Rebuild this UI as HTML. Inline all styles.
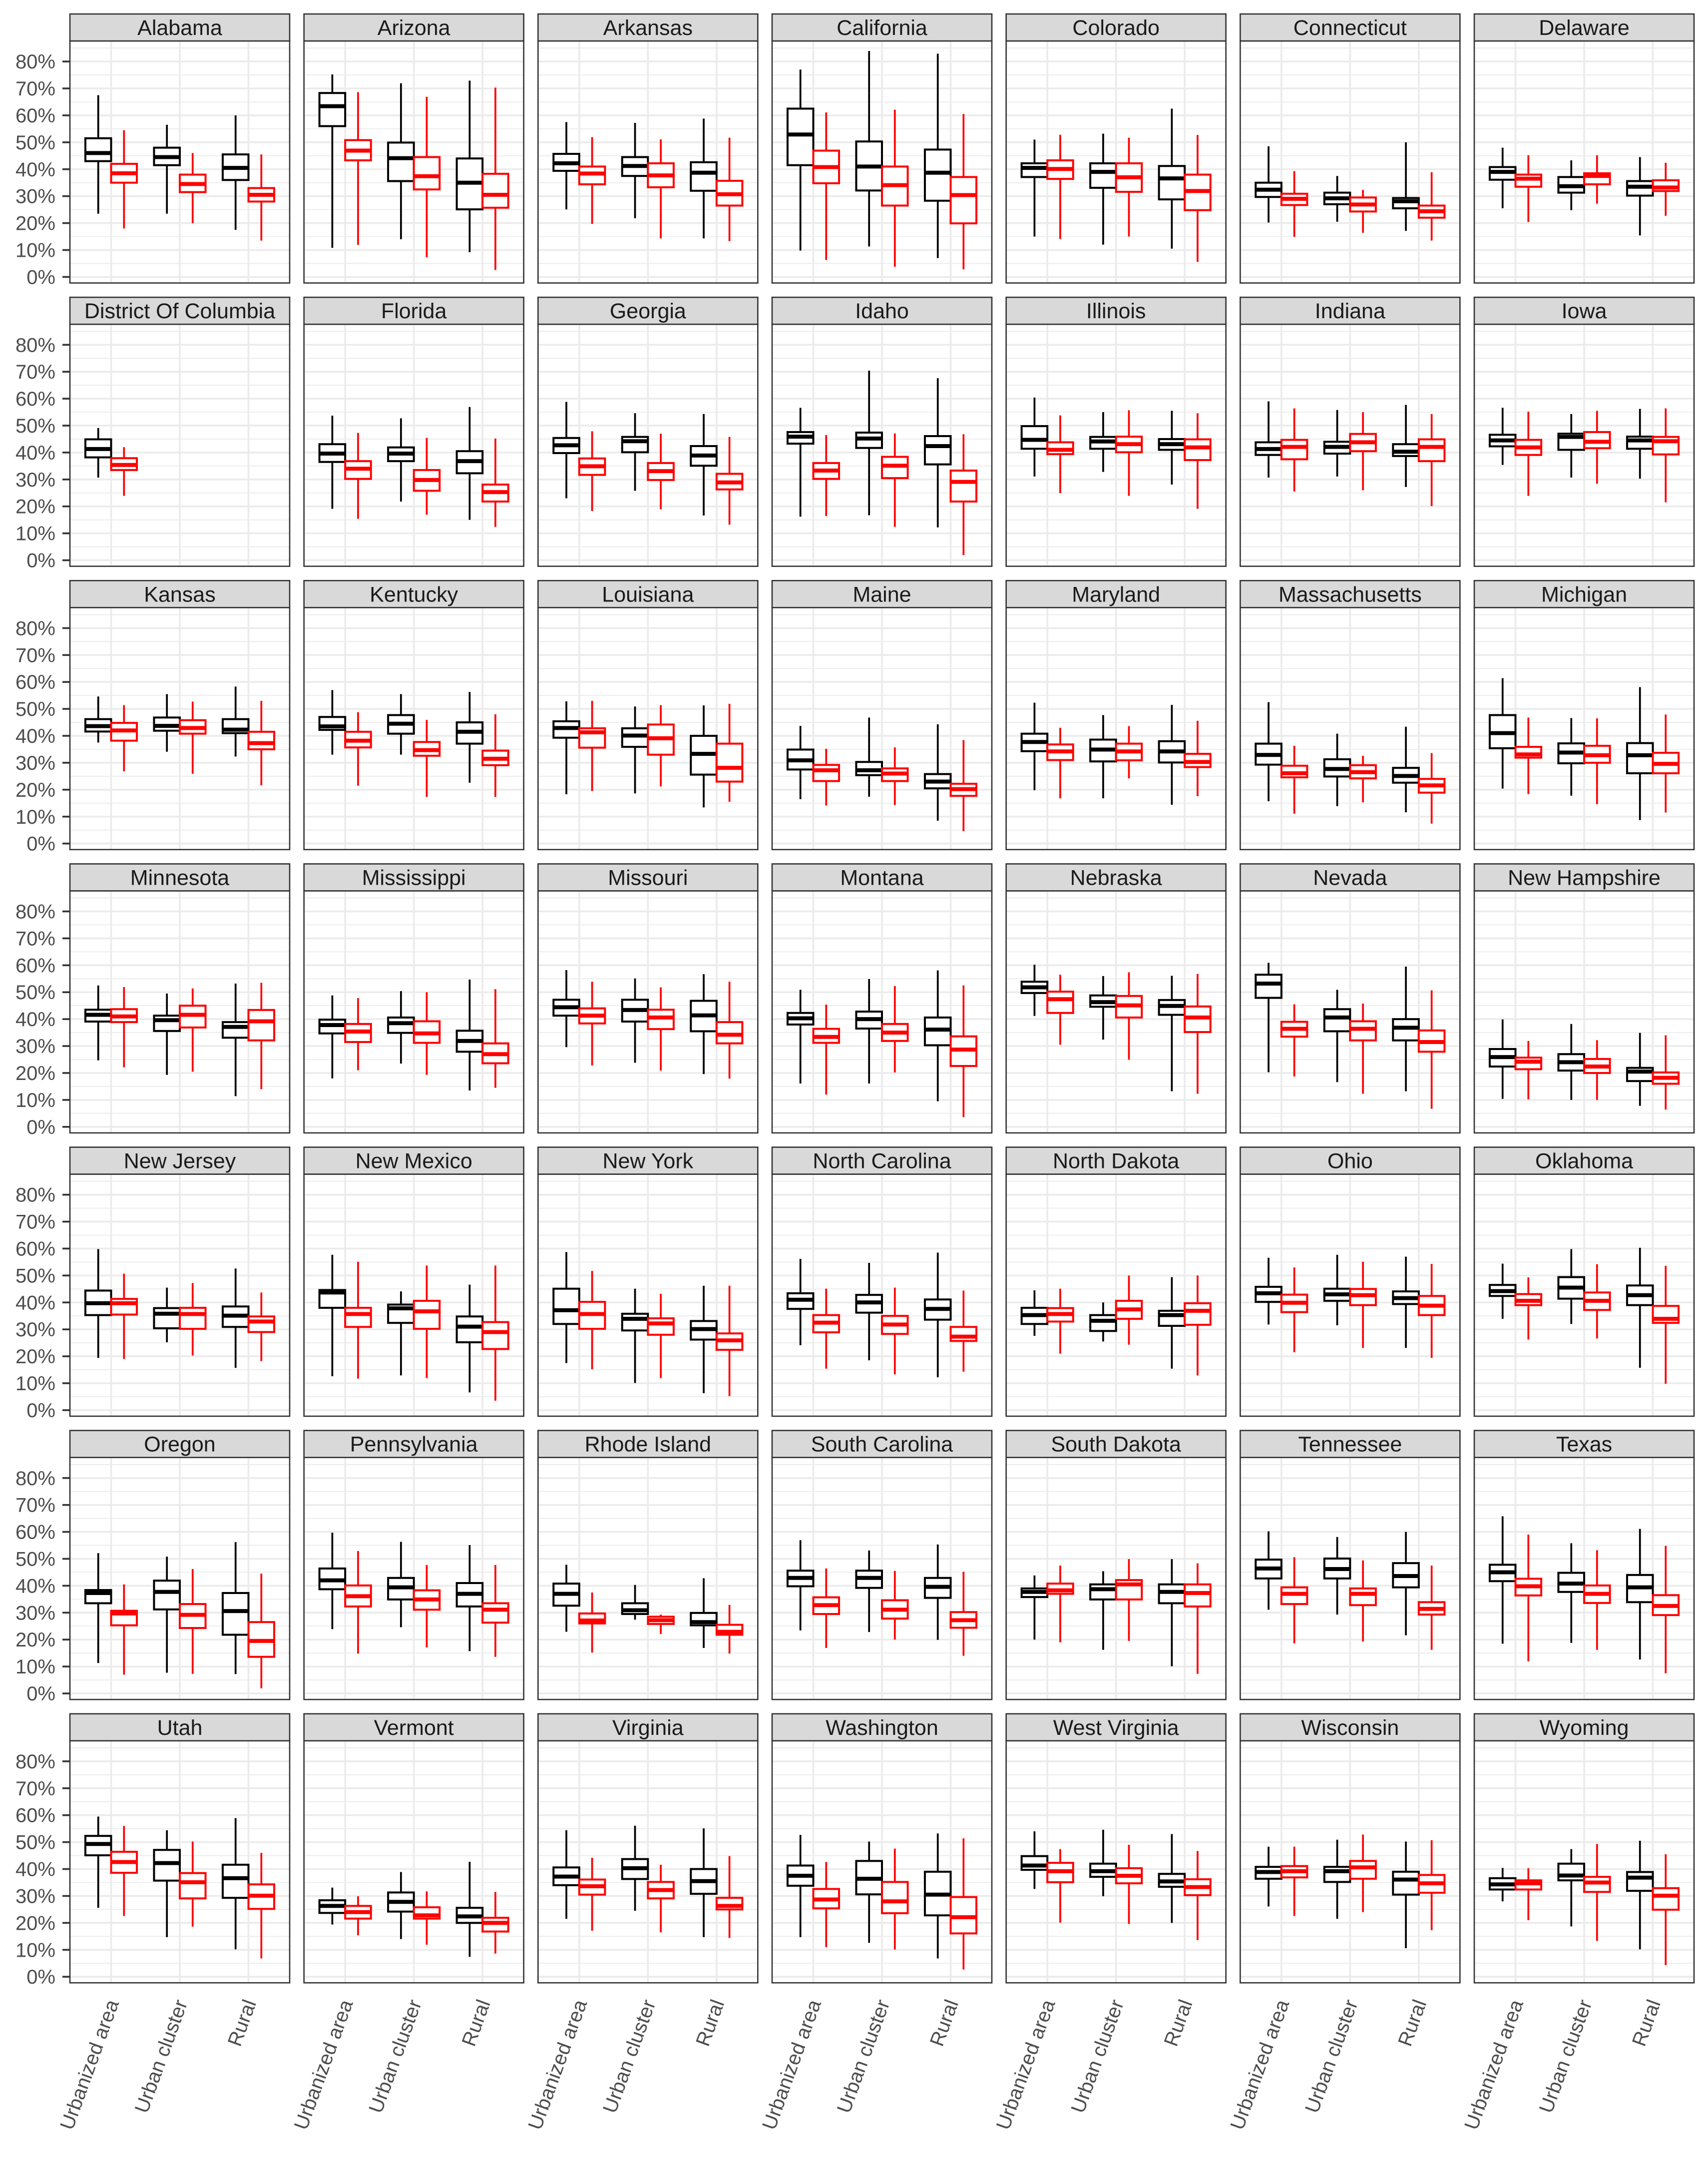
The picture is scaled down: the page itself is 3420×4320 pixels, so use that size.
<!DOCTYPE html>
<html><head><meta charset="utf-8"><style>
html,body{margin:0;padding:0;background:#fff;}
svg{display:block;}
</style></head><body>
<svg id="chart" xmlns="http://www.w3.org/2000/svg" width="3420" height="4320" viewBox="0 0 3420 4320" font-family="Liberation Sans, Arial, sans-serif"></svg>
<script>
const states = ["Alabama","Arizona","Arkansas","California","Colorado","Connecticut","Delaware","District Of Columbia","Florida","Georgia","Idaho","Illinois","Indiana","Iowa","Kansas","Kentucky","Louisiana","Maine","Maryland","Massachusetts","Michigan","Minnesota","Mississippi","Missouri","Montana","Nebraska","Nevada","New Hampshire","New Jersey","New Mexico","New York","North Carolina","North Dakota","Ohio","Oklahoma","Oregon","Pennsylvania","Rhode Island","South Carolina","South Dakota","Tennessee","Texas","Utah","Vermont","Virginia","Washington","West Virginia","Wisconsin","Wyoming"];
const categories = ["Urbanized area","Urban cluster","Rural"];
const yTicks = [0,10,20,30,40,50,60,70,80];
const yTickLabels = ["0%","10%","20%","30%","40%","50%","60%","70%","80%"];
// each entry: [min, q1, median, q3, max] per category (percent)
const blackStats = [
[[23.5,43,46,51.5,67.5],[23.5,41.5,44.5,48,56.5],[17.5,36,40.5,45.5,60]],
[[10.8,56,63.4,68.3,75.2],[14,35.6,44.1,49.9,71.9],[9.2,25.1,35,44,72.9]],
[[25.1,39.4,42.2,45.7,57.5],[21.8,37.5,41.2,44.5,57.2],[14.3,32,38.7,42.6,58.8]],
[[9.8,41.5,52.9,62.5,77],[11.3,32.1,41,50.3,83.9],[7,28.3,38.7,47.3,82.9]],
[[15,37.1,40.5,42.2,51],[12,33.1,39,42.2,53.2],[10.5,28.8,36.6,41.2,62.5]],
[[20.2,29.7,32.4,35,48.5],[20.5,27,29.2,31.3,37.5],[17.1,25.5,28.1,29.3,50]],
[[25.5,36.1,39,40.8,48],[24.8,31.3,33.7,37.1,43.3],[15.4,30.2,33.5,35.6,44.5]],
[[30.7,38.2,41.3,44.9,49.1],null,null],
[[19.1,36.5,39.6,43.1,53.7],[21.8,36.8,39.6,41.9,52.7],[15,32.3,36.8,40.5,56.9]],
[[23,39.8,42.7,45.4,58.8],[25.8,40.1,44.2,45.8,54.6],[16.6,35.1,38.9,42.4,54.3]],
[[16.2,43.3,45.9,47.6,56.6],[16.7,41.7,45.2,47.4,70.4],[12.2,35.6,42.4,46.1,67.6]],
[[31.1,41.4,44.7,49.8,60.4],[32.8,41.4,44.1,45.8,55],[28.1,41,43.1,45,55.5]],
[[30.7,39.1,41.3,43.8,59],[31.1,39.6,42.1,44,55.8],[27.2,38.7,40.3,43.1,57.7]],
[[35.4,42.3,44.5,46.6,56.6],[30.7,41,45.8,47,54.3],[30.3,41.4,44.5,45.9,56.2]],
[[37.5,41.6,43.6,46.2,54.6],[34.1,41.9,43.7,46.8,55.5],[32.3,41,42.3,46.2,58.3]],
[[33,42.2,43.5,47,57],[33,40.8,44.5,47.7,55.5],[22.6,37.1,41.5,45,56.3]],
[[18.3,39.3,42.9,45.4,52.8],[18.6,35.9,40.1,42.8,50.9],[13.4,25.6,33.3,40,51.3]],
[[16.5,27.5,30.9,34.9,43.7],[17.4,25.4,27.2,30.3,46.8],[8.5,20.5,23,25.8,44.3]],
[[19.8,34.3,37.7,40.8,52.3],[16.8,30.5,34.9,38.6,47.7],[14.4,30.1,34.2,38,51.5]],
[[15.7,29.3,32.9,37.1,52.5],[13.9,24.9,27.7,31.3,40.8],[11.6,22.6,25.1,28.1,43.4]],
[[20.4,35.4,41,47.7,61.4],[17.8,29.8,33.8,37.2,46.6],[8.7,26.1,32.8,37.3,58.1]],
[[24.7,39.1,41.6,43.5,52.5],[19.3,35.6,39.6,41.3,49.5],[11.4,33.1,37.1,38.9,53.2]],
[[18,34.7,37.8,39.8,48.8],[23.5,34.9,38.5,40.6,50.4],[13.5,27.9,31.9,35.7,54.7]],
[[29.6,41.3,44.4,47.2,58.2],[23.8,39.1,43.4,47.2,55.1],[19.6,35.5,41.4,46.8,56.7]],
[[16.1,38,40.3,42.3,50.9],[16.1,36.5,40,42.8,54.9],[9.5,30.3,36.1,40.6,58.1]],
[[41.2,49.7,51.8,53.9,60.2],[32.4,44.6,46.3,48.8,56],[13.2,41.6,44.9,47.1,56.1]],
[[20.3,47.9,53.2,56.5,60.9],[16.6,35.5,40.6,43.7,50.9],[13.2,32.1,36.8,40,59.5]],
[[10.4,22.4,25.9,28.9,39.9],[10,20.9,24,27,38.2],[7.8,17,20.5,21.9,34.9]],
[[19.4,35.3,39.7,44.4,59.8],[25.2,30.4,35.8,37.9,45.5],[15.7,30.9,35.1,38.5,52.6]],
[[12.6,38,43.7,44.6,57.7],[12.9,32.4,37.8,39.2,44.1],[6.6,25.2,31,34.8,46.6]],
[[17.5,32,37.1,45.1,58.7],[10.1,29.6,33.9,35.8,45.1],[6.3,26.2,30.1,33.1,46.2]],
[[24.1,37.6,41,43.4,56.2],[18.5,36.2,40,42.8,54.7],[12.2,33.6,37.6,41.1,58.5]],
[[27.6,32,35.3,38,44.5],[25.5,29.4,33.2,35.3,40],[15.4,31.3,35.3,36.9,49.4]],
[[31.8,40.2,43.4,45.8,56.6],[31.5,40.6,43,45.1,57.7],[23.1,39.4,41.6,44.1,57]],
[[33.9,42.4,44.2,46.5,54.4],[32,41.4,45.5,49.4,59.8],[15.7,39,42.7,46.3,60.3]],
[[11.3,33.5,37.3,38.4,52.1],[7.7,31.2,37.7,41.9,50.8],[7.2,21.8,30.6,37.3,56.2]],
[[23.9,38.7,42,46.4,59.7],[24.6,34.9,39.4,42.9,56.3],[15.7,32.3,37,41,55.1]],
[[22.9,32.6,37,40.8,47.8],[27.4,29.5,30.9,33.5,40.3],[16.9,25.3,26.5,29.9,42.8]],
[[23.4,39.8,42.9,45.6,56.9],[22.8,39.2,42.9,45.6,53.1],[19.9,35.5,39.6,42.9,55.3]],
[[20,35.8,37.7,39,43.8],[16.2,34.9,38.7,40.5,45.4],[10.1,33.5,37.7,40.5,49.9]],
[[31.1,42.7,46.4,49.7,60.2],[29.3,42.7,46.2,50.1,58.1],[21.6,39.4,43.6,48.4,60]],
[[18.5,41.7,45,47.8,65.8],[18.8,37.7,40.8,44.8,55.8],[12.6,33.9,39.4,44,61.1]],
[[25.6,45.1,49.3,52.3,59.5],[14.7,35.7,42.2,47.1,54.4],[10.2,29.3,36.6,41.6,58.9]],
[[19.4,23.7,26.3,28.4,33.1],[14,24.2,27.8,31.3,38.9],[7.4,20,22.4,25.6,42.7]],
[[21.5,34,37.2,40.6,54.4],[24.5,36.3,40.3,43.7,56.1],[14.7,30.8,35.5,40,55.1]],
[[14.7,33.8,37.5,41.3,52.7],[12.6,30.6,36.4,43,50.2],[6.8,22.8,30.5,39,53.2]],
[[32.6,39.7,41.3,44.8,54],[29.9,37.1,39.2,42,54.6],[20,33.4,35.4,38.2,53]],
[[26.1,36.4,38.9,40.8,48.3],[21.5,35.2,39.2,40.8,50.9],[10.6,30.5,36.1,39,50.2]],
[[28,32.4,34.3,36.6,40.4],[18.7,35.8,37.6,42,47.4],[10.2,31.9,36.8,38.9,50.5]]
];
const redStats = [
[[18,35,38.5,42,54.5],[20,31.5,34.5,38,46],[13.5,28,30.5,33,45.5]],
[[11.9,43.3,46.9,50.8,68.6],[7.3,32.5,37.4,44.5,66.9],[2.6,25.7,30.5,38.3,70.3]],
[[19.7,34.4,38.4,41,51.9],[14.3,33.3,37.7,42.2,51.1],[13.3,26.5,30.7,35.7,51.7]],
[[6.3,34.8,40.8,46.9,61.1],[3.8,26.5,34.1,41,62.1],[2.8,19.9,30.4,37.1,60.5]],
[[14.1,36.4,40.1,43.3,52.8],[15,31.6,37,42.2,51.7],[5.6,24.8,31.9,38,52.7]],
[[14.9,26.7,29,30.9,39.3],[16.4,24.3,26.9,29.5,32.3],[13.5,22,24.4,26.5,38.9]],
[[20.4,33.5,36.5,38,45.2],[27.2,34.4,37.5,38.5,45.2],[22.7,31.9,33.2,35.9,42.4]],
[[23.9,33.5,35.4,37.9,42],null,null],
[[15.4,30.2,34,36.8,47.3],[16.9,25.8,29.8,33.5,45.4],[12.4,21.8,25.3,28.1,45.2]],
[[18.3,31.7,34.9,37.8,47.9],[18.9,29.8,33.1,36.1,47],[13.2,26.3,28.9,32.1,45.8]],
[[16.4,30.2,33.3,36.1,46.5],[12.4,30.5,35.1,38.4,47.1],[1.9,21.8,29.1,33.3,46.8]],
[[24.9,39.4,41,43.8,53.8],[23.9,40.1,43.1,45.9,55.7],[19.1,37.2,41.9,44.9,54.6]],
[[25.5,37.5,42.1,44.7,56.4],[26,40.5,43.8,46.9,55],[20.1,36.8,42.1,44.9,54.3]],
[[23.9,39.1,41.9,44.7,55.2],[28.4,41.6,44,47.6,55.5],[21.5,39.3,44.2,45.8,56.4]],
[[26.8,38.2,42,44.8,51.4],[25.9,40.8,42.9,45.8,52.7],[21.6,35,37.3,41.5,53]],
[[21.5,35.7,38.2,41.5,48.8],[17.3,32.6,34.7,37.7,45.9],[17.3,29.1,31.5,34.5,48]],
[[19.5,35.6,41.3,42.8,53],[21.2,33,39.1,44.2,51.4],[15.5,23,28.1,37.1,51.9]],
[[14.1,23.2,27.2,29.2,35.2],[14.3,23.2,26,27.9,35.7],[4.6,17.7,20.2,22.2,38.4]],
[[16.8,31,34.2,36.8,43],[24.2,30.9,34.2,37.1,43.6],[17.6,28.4,30.3,33.3,45.6]],
[[11.1,24.6,26.1,28.9,36.3],[15.3,24.2,26.5,29.1,32.6],[7.4,18.9,21.6,24,33.6]],
[[18.4,31.9,33.1,35.9,46.8],[14.6,30,32.8,36.3,46.5],[11.5,26.1,29.6,33.7,47.9]],
[[22.1,38.9,41,43.7,51.9],[20.5,36.9,41.6,45,51.4],[14,32.1,39.2,43.4,53.5]],
[[21,31.5,35.4,38.2,47.8],[19.3,31.2,34.7,39.2,50],[14.5,23.6,27,31,51.1]],
[[22.8,38.4,41.3,44,53.9],[20.9,36.3,40.6,43.5,51.8],[17.9,31,34.2,38.9,53.9]],
[[12,31.2,33.4,36.4,45.4],[20.2,31.9,35,38.2,52.3],[3.6,22.6,28.7,33.6,52.5]],
[[30.5,42.3,47.4,50.2,56.5],[24.9,40.6,45.1,48.6,57.4],[12.3,35.2,40.6,44.7,56.8]],
[[18.7,33.5,36.4,39,45.5],[12.3,32.1,36.4,39.2,45.8],[6.7,27.9,31.5,35.8,50.7]],
[[10.2,21.4,24.2,25.7,31.9],[10,20,22.4,25.2,32.2],[6.4,16,18.2,20.2,34]],
[[19,35.5,39.7,41.3,50.7],[20.3,30.2,35.7,38,47.2],[18.2,29,32.9,34.8,43.7]],
[[11.7,30.9,35.7,38,55.1],[11.9,30.2,36.7,40.6,53.7],[3.5,22.7,29,32.7,53.7]],
[[15.2,30.2,35.7,40.2,51.7],[11.9,28,32.2,34.1,43.2],[5.2,22.4,25.9,28.5,46.2]],
[[15.4,28.9,32.5,35.3,45.1],[13.3,28.3,31.8,35,45.5],[14.3,25.7,27.3,30.9,44.4]],
[[21,32.9,35.7,37.9,45.1],[24.3,33.9,37.4,40.6,50],[12.9,31.7,36.9,39.7,50]],
[[21.5,36.4,39.9,42.9,53],[23.1,39,42.7,45,55.1],[19.4,35.3,38.8,42.4,54.3]],
[[26.2,39,40.6,43.1,49.3],[26.6,37.2,40.6,43.7,54.2],[9.8,32.4,33.9,38.7,53.6]],
[[7,25.3,29.7,30.7,40.5],[7.3,24.3,29.2,33.2,46.2],[1.9,13.6,19.5,26.5,44.5]],
[[14.8,32.3,36.1,40.1,52.9],[17.1,31.1,34.9,38.3,47.7],[13.6,26.3,31.1,33.5,47.7]],
[[15.2,26,27.1,29.7,37.5],[22.1,25.8,27.2,28.5,29.3],[14.8,21.8,22.9,25.5,32.9]],
[[16.9,29.5,32.8,35.7,46.4],[20,27.8,31.1,34.6,45.5],[14,24.4,27.2,30.2,45.2]],
[[19,37,38.3,40.8,47.5],[19.5,34.9,40.5,42.1,49.9],[7.3,32.3,37.3,40.5,48.3]],
[[18.6,33.2,37,39.4,50.6],[19.3,32.8,37,39,49.4],[16.2,29.3,31.4,33.9,47.5]],
[[11.9,36.4,39.8,42.6,59],[16.2,33.6,37,40.1,53.2],[7.5,29.1,32.5,36.5,54.8]],
[[22.6,38.6,42.6,46.4,56],[18.6,29.1,35.1,38.5,50.2],[6.8,25.2,30.1,34.3,46]],
[[15.4,21.6,24,26.3,29.9],[11.9,21.6,22.8,25.8,31.7],[8.6,16.8,20,21.9,31.5]],
[[17.1,30.5,33.6,36.1,44.2],[16.5,29.1,32.2,35.2,41.6],[14.4,25,26.3,29.3,44.8]],
[[11,25.4,28.7,32.6,42.6],[10.1,23.6,28,35.2,47.6],[2.7,16.1,22.1,29.6,51.4]],
[[20.1,35.1,39.2,42.3,47.4],[19.6,34.7,37.5,40.3,49],[13.6,30.3,33.3,36.2,46.7]],
[[22.6,36.9,39.2,41.1,48.3],[24,36.4,40.6,43,52.8],[17.3,31.2,34.7,37.8,50.7]],
[[21,32.4,34.7,35.8,40.3],[13.3,31.5,35,37.1,49.3],[4.3,24.9,30.1,32.9,45.5]]
];

const NS = "http://www.w3.org/2000/svg";
const svg = document.getElementById("chart");
const NCOL = 7, PANEL_W = 440, COL_STEP = 468.67, LEFT0 = 140;
const ROW_STEP = 567.13, STRIP_TOP = 28, STRIP_BOT = 82, PANEL_BOT = 566.5;
const Y0 = 554.4, PX_PER_PCT = 5.391;
const UNIT = PANEL_W / 3.2, BOXW = UNIT * 0.375;

function mk(tag, attrs, parent) {
  const e = document.createElementNS(NS, tag);
  for (const k in attrs) e.setAttribute(k, attrs[k]);
  (parent || svg).appendChild(e);
  return e;
}
function yScale(rowTop, v) { return rowTop + Y0 - v * PX_PER_PCT; }
function xCat(left, ci) { return left + UNIT * (0.6 + ci); }

function drawBox(g, cx, rowTop, s, color, name) {
  const bg = mk("g", {}, g);
  
  
  const yMin = yScale(rowTop, s[0]), yQ1 = yScale(rowTop, s[1]), yMed = yScale(rowTop, s[2]), yQ3 = yScale(rowTop, s[3]), yMax = yScale(rowTop, s[4]);
  mk("line", {x1: cx, x2: cx, y1: yMax, y2: yQ3, stroke: color, "stroke-width": 3.7}, bg);
  mk("line", {x1: cx, x2: cx, y1: yQ1, y2: yMin, stroke: color, "stroke-width": 3.7}, bg);
  mk("rect", {x: cx - BOXW / 2, y: yQ3, width: BOXW, height: Math.max(yQ1 - yQ3, 0.5), fill: "#fff", stroke: color, "stroke-width": 4}, bg);
  mk("line", {x1: cx - BOXW / 2, x2: cx + BOXW / 2, y1: yMed, y2: yMed, stroke: color, "stroke-width": 8}, bg);
}

states.forEach((st, i) => {
  const col = i % NCOL, row = Math.floor(i / NCOL);
  const left = LEFT0 + col * COL_STEP, right = left + PANEL_W;
  const rowTop = row * ROW_STEP;
  const g = mk("g", {});
  
  
  // panel background + grid
  mk("rect", {x: left, y: rowTop + STRIP_BOT, width: PANEL_W, height: PANEL_BOT - STRIP_BOT, fill: "#fff"}, g);
  const grid = mk("g", {}, g);
  
  
  for (let v = 5; v <= 85; v += 10) {
    const y = yScale(rowTop, v);
    mk("line", {x1: left, x2: right, y1: y, y2: y, stroke: "#EBEBEB", "stroke-width": 1.8}, grid);
  }
  yTicks.forEach(v => {
    const y = yScale(rowTop, v);
    mk("line", {x1: left, x2: right, y1: y, y2: y, stroke: "#EBEBEB", "stroke-width": 3.6}, grid);
  });
  categories.forEach((c, ci) => {
    const x = xCat(left, ci);
    mk("line", {x1: x, x2: x, y1: rowTop + STRIP_BOT, y2: rowTop + PANEL_BOT, stroke: "#EBEBEB", "stroke-width": 3.6}, grid);
  });
  // boxes
  categories.forEach((c, ci) => {
    const cx = xCat(left, ci);
    const b = blackStats[i][ci], r = redStats[i][ci];
    if (b) drawBox(g, cx - BOXW / 2, rowTop, b, "#000000", 'box-black-' + ci);
    if (r) drawBox(g, cx + BOXW / 2, rowTop, r, "#FF0000", 'box-red-' + ci);
  });
  // panel border
  const pb = mk("rect", {x: left, y: rowTop + STRIP_BOT, width: PANEL_W, height: PANEL_BOT - STRIP_BOT, fill: "none", stroke: "#333333", "stroke-width": 2.6}, g);
  
  
  // strip
  const sr = mk("rect", {x: left, y: rowTop + STRIP_TOP, width: PANEL_W, height: STRIP_BOT - STRIP_TOP, fill: "#D9D9D9", stroke: "#333333", "stroke-width": 2.6}, g);
  
  
  const stText = mk("text", {x: left + PANEL_W / 2, y: rowTop + (STRIP_TOP + STRIP_BOT) / 2 + 15, "text-anchor": "middle", "font-size": 43, fill: "#1A1A1A"}, g);
  
  
  stText.textContent = st;
  // y axis on first column
  if (col === 0) {
    const ax = mk("g", {}, g);
    
    
    yTicks.forEach((v, ti) => {
      const y = yScale(rowTop, v);
      mk("line", {x1: left - 15, x2: left, y1: y, y2: y, stroke: "#333333", "stroke-width": 3.6}, ax);
      const t = mk("text", {x: left - 29, y: y + 14, "text-anchor": "end", "font-size": 40, fill: "#4D4D4D"}, ax);
      
      
      t.textContent = yTickLabels[ti];
    });
  }
  // x axis labels on bottom row
  if (row === 6) {
    categories.forEach((c, ci) => {
      const x = xCat(left, ci) + 16, y = rowTop + PANEL_BOT + 40;
      const t = mk("text", {x: x, y: y, "text-anchor": "end", "font-size": 40, fill: "#4D4D4D", transform: "rotate(-70 " + x + " " + y + ")"}, g);
      
      
      t.textContent = c;
    });
  }
});
</script>
</body></html>
